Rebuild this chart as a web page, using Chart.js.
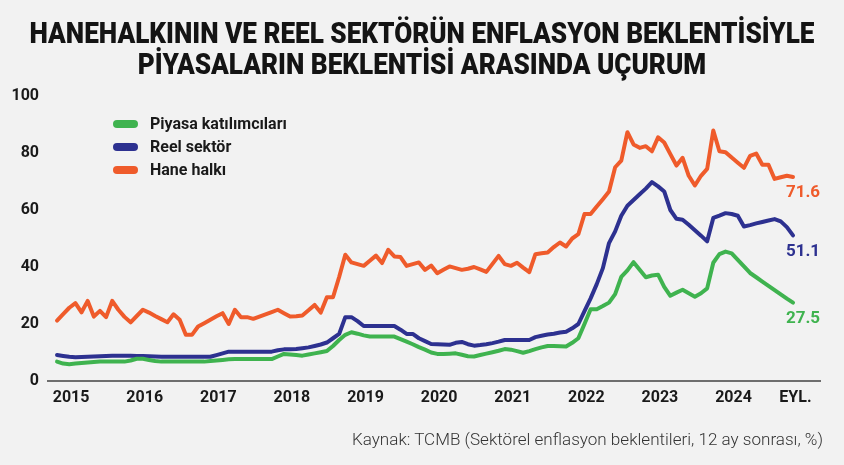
<!DOCTYPE html>
<html><head><meta charset="utf-8">
<script src="https://cdn.jsdelivr.net/npm/chart.js@4.4.1/dist/chart.umd.min.js"></script>
<style>
html,body{margin:0;padding:0;background:#f2f2f2;}
#wrap{position:relative;width:844px;height:465px;overflow:hidden;background:#f2f2f2;font-family:Roboto,"Noto Sans",sans-serif;}
canvas{position:absolute;left:0;top:0;}
.tline{position:absolute;left:0;width:844px;height:32px;font-weight:900;font-size:30px;color:#141414;line-height:1;}
.tline span{position:absolute;left:422px;top:0;white-space:nowrap;transform-origin:50% 50%;}
#l1{top:18px}
#l2{top:49px}
#src{position:absolute;right:21px;top:432px;font-size:16px;font-weight:300;color:#333;white-space:nowrap;line-height:1;transform-origin:100% 50%;}
.leg{position:absolute;left:113px;font-weight:700;font-size:16px;color:#1a1a1a;height:20px;line-height:20px;width:250px;}
.leg i{position:absolute;left:0;top:6px;width:25px;height:8px;border-radius:4px;}
.leg b{position:absolute;left:37px;top:0;white-space:nowrap;font-weight:700;}
</style></head>
<body>
<div id="wrap">
  <canvas id="c" width="844" height="465"></canvas>
  <div class="tline" id="l1"><span>HANEHALKININ VE REEL SEKTÖRÜN ENFLASYON BEKLENTİSİYLE</span></div>
  <div class="tline" id="l2"><span>PİYASALARIN BEKLENTİSİ ARASINDA UÇURUM</span></div>
  <div id="legend"></div>
  <div id="src">Kaynak: TCMB (Sektörel enflasyon beklentileri, 12 ay sonrası, %)</div>
</div>
<script>
// ---- DATA ----
// monthly, Sep 2014 .. Sep 2024 (121 months)
const months = [];
for (let y = 2014, m = 9; !(y === 2024 && m === 10); ) {
  months.push(y + '-' + String(m).padStart(2, '0'));
  m++; if (m > 12) { m = 1; y++; }
}
const seriesNames = ['Piyasa katılımcıları', 'Reel sektör', 'Hane halkı'];

const piyasa = [
  6.8,6.1,5.9,6.1,6.3,6.5,6.7,6.8,6.8,6.8,6.8,6.8,
  7.2,7.8,7.8,7.4,7.0,6.8,6.8,6.8,6.8,6.8,6.8,6.8,
  6.8,7.0,7.2,7.4,7.6,7.7,7.7,7.7,7.7,7.7,7.7,7.7,
  8.6,9.5,9.3,9.1,8.9,9.3,9.7,10.1,10.5,12.3,14.4,16.2,
  17.1,16.6,16.0,15.6,15.6,15.6,15.6,15.6,14.7,13.8,12.9,11.9,
  11.0,10.0,9.5,9.5,9.6,9.7,9.2,8.7,8.6,9.1,9.6,10.1,
  10.6,11.2,11.0,10.5,9.9,10.5,11.2,11.8,12.3,12.3,12.2,12.1,
  13.4,15.0,20.0,25.2,25.2,26.3,27.5,30.5,36.5,38.8,41.7,39.0,
  36.4,37.0,37.3,33.0,29.9,31.0,32.0,30.8,29.6,30.8,32.5,41.5,
  44.5,45.4,44.8,42.5,40.2,37.9,36.4,34.9,33.4,31.9,30.4,28.9,
  27.5
];
const reel = [
  9.1,8.8,8.5,8.3,8.4,8.5,8.6,8.7,8.8,8.9,8.9,8.9,
  8.9,8.8,8.8,8.7,8.6,8.5,8.5,8.5,8.5,8.5,8.5,8.5,
  8.5,8.5,9.1,9.7,10.3,10.3,10.3,10.3,10.3,10.3,10.3,10.3,
  10.8,11.1,11.1,11.2,11.5,11.8,12.3,12.8,13.5,15.0,16.5,22.4,
  22.4,21.0,19.3,19.3,19.3,19.3,19.3,19.3,18.0,16.5,16.5,15.0,
  14.0,13.0,12.9,12.8,12.7,13.4,13.7,12.9,12.4,12.6,12.9,13.3,
  13.8,14.4,14.4,14.4,14.4,14.4,15.4,15.9,16.3,16.6,17.0,17.3,
  18.5,20.0,24.5,29.0,34.0,39.6,48.4,52.5,58.0,61.5,63.5,65.5,
  67.5,69.8,68.3,66.5,60.0,56.9,56.6,54.8,52.9,51.0,49.0,57.2,
  58.0,58.9,58.6,58.0,54.2,54.7,55.3,55.8,56.3,56.8,56.0,54.0,
  51.1
];
const hane = [
  21.2,23.5,25.7,27.3,24.1,28.1,22.6,24.6,22.4,28.1,25.0,22.5,
  20.6,22.8,25.0,24.0,22.8,21.7,20.6,23.4,21.5,16.2,16.2,19.1,
  20.3,21.5,22.7,23.8,20.0,25.0,22.4,22.4,21.8,22.6,23.4,24.2,
  25.0,23.8,22.6,22.7,23.0,24.8,26.7,24.0,29.4,29.4,36.5,44.3,
  41.6,41.0,40.4,42.2,44.0,41.4,46.0,43.7,43.5,40.4,41.0,41.6,
  39.0,40.5,37.8,39.0,40.2,39.6,39.0,39.4,40.0,39.2,38.3,41.1,
  43.9,41.0,40.4,41.5,39.8,38.2,44.5,44.8,45.1,47.0,48.6,47.2,
  50.0,51.5,58.6,58.6,61.2,63.8,66.5,75.0,77.3,87.3,83.0,81.8,
  82.4,80.6,85.5,83.7,79.6,75.6,78.3,72.0,68.6,72.0,74.4,87.9,
  80.6,80.3,78.4,76.6,74.8,79.0,79.8,75.9,75.9,70.9,71.5,72.0,
  71.6
];
const xTickLabels = ['2015','2016','2017','2018','2019','2020','2021','2022','2023','2024','EYL.'];
const xTickAt = [2.3,14.3,26.3,38.3,50.3,62.3,74.3,86.3,98.3,110.3,120.4]; // month index of each label
const yTicks = [0,20,40,60,80,100];

// ---- STYLE ----
const colors = ['#3fb34f', '#2d3190', '#ef5b2b'];
const series = [piyasa, reel, hane];

// legend (HTML)
const leg = document.getElementById('legend');
seriesNames.forEach((n, i) => {
  const d = document.createElement('div');
  d.className = 'leg';
  d.style.top = (114 + i * 23) + 'px';
  d.innerHTML = '<i style="background:' + colors[i] + '"></i><b>' + n + '</b>';
  leg.appendChild(d);
});

const endLabels = {
  id: 'endLabels',
  afterDatasetsDraw(chart) {
    const ctx = chart.ctx;
    chart.data.datasets.forEach((ds, i) => {
      const meta = chart.getDatasetMeta(i);
      const pt = meta.data[meta.data.length - 1];
      const v = ds.data[ds.data.length - 1].y;
      ctx.save();
      ctx.font = 'bold 17px Roboto';
      ctx.fillStyle = ds.borderColor;
      ctx.textAlign = 'center';
      ctx.textBaseline = 'middle';
      ctx.fillText(v.toFixed(1), pt.x + 10, pt.y + 16);
      ctx.restore();
    });
  }
};

function build() {
  const s1 = document.querySelector('#l1 span');
  const s2 = document.querySelector('#l2 span');
  const k = 785 / s1.getBoundingClientRect().width;
  s1.style.transform = 'translateX(-50%) scaleX(' + k + ')';
  s2.style.transform = 'translateX(-50%) scaleX(' + k + ')';
  const src = document.getElementById('src');
  const ks = 471 / src.getBoundingClientRect().width;
  src.style.transform = 'scaleX(' + ks + ')';

  new Chart(document.getElementById('c'), {
    type: 'line',
    data: {
      datasets: series.map((arr, i) => ({
        label: seriesNames[i],
        data: arr.map((v, j) => ({ x: j, y: v })),
        borderColor: colors[i],
        backgroundColor: colors[i],
        borderWidth: 4,
        pointRadius: 0,
        tension: 0,
        borderJoinStyle: 'round',
        borderCapStyle: 'round',
        fill: false
      }))
    },
    options: {
      responsive: false,
      animation: false,
      events: [],
      layout: { padding: { top: 96, right: 24, bottom: 54, left: 0 } },
      plugins: { legend: { display: false }, tooltip: { enabled: false }, title: { display: false } },
      scales: {
        x: {
          type: 'linear',
          min: -1.47,
          max: 124.4,
          grid: { display: false, drawTicks: false },
          border: { display: true, color: '#6e6e6e', width: 2 },
          afterBuildTicks: (sc) => { sc.ticks = xTickAt.map(v => ({ value: v })); },
          afterFit: (sc) => { sc.height = 30; },
          ticks: {
            autoSkip: false, maxRotation: 0, padding: 7,
            color: '#1a1a1a',
            font: { family: 'Roboto', weight: 'bold', size: 16 },
            callback: (v, idx) => xTickLabels[idx]
          }
        },
        y: {
          min: 0, max: 100,
          grid: { display: false, drawTicks: false },
          border: { display: false },
          afterBuildTicks: (sc) => { sc.ticks = yTicks.map(v => ({ value: v })); },
          afterFit: (sc) => { sc.width = 48; },
          ticks: {
            padding: 9,
            color: '#1a1a1a',
            font: { family: 'Roboto', weight: 'bold', size: 16 }
          }
        }
      }
    },
    plugins: [endLabels]
  });
}
if (document.fonts && document.fonts.ready) document.fonts.ready.then(build); else build();
</script>
</body></html>
